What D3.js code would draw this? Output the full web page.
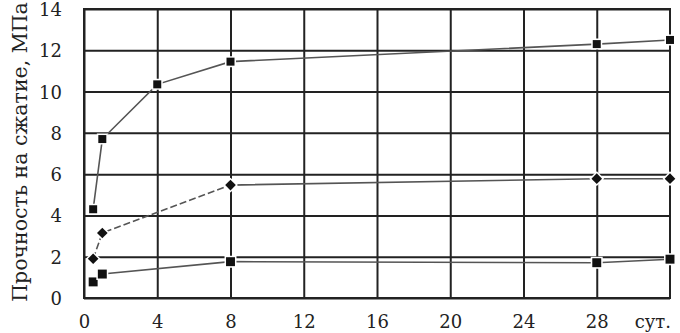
<!DOCTYPE html>
<meta charset="utf-8">
<head>
<style>
	body {
	margin: 0;
	background-color: #fff;
	}
	svg text {
	font-family: 'DejaVu Serif', serif;
	fill: #222;
	}
</style>
</head>
<body>
<div id="chart"></div>

<script src="https://d3js.org/d3.v7.min.js"></script>
<script>

// data: days vs strength, MPa
var days = [0.5, 1, 4, 8, 28, 32];
var daysShort = [0.5, 1, 8, 28, 32];
var seriesTop = [4.3, 7.7, 10.35, 11.45, 12.3, 12.5];
var seriesMid = [1.9, 3.15, 5.47, 5.78, 5.78];
var seriesLow = [0.78, 1.16, 1.76, 1.71, 1.88];

var xTicks = [0, 4, 8, 12, 16, 20, 24, 28];
var yTicks = [0, 2, 4, 6, 8, 10, 12, 14];
var xUnit = "сут.";
var yTitle = "Прочность на сжатие, МПа";

var margin = {top: 9, right: 10, bottom: 35, left: 84},
  width = 680 - margin.left - margin.right,
  height = 333 - margin.top - margin.bottom;

var svg = d3.select("#chart")
  .append("svg")
    .attr("width", 680)
    .attr("height", 333)
  .append("g")
    .attr("transform", "translate(" + margin.left + "," + margin.top + ")");

var x = d3.scaleLinear().domain([0, 32]).range([0, width]);
var y = d3.scaleLinear().domain([0, 14]).range([height, 0]);

// grid + tick labels
var gy = svg.append("g")
  .call(d3.axisLeft(y).tickValues(yTicks).tickSize(-width).tickPadding(22).tickFormat(d3.format("d")));
gy.select(".domain").remove();
gy.selectAll("line").attr("stroke", "#222").attr("stroke-width", 2);
gy.selectAll("text").style("font-size", "18px").attr("dy", "0.36em");

var gx = svg.append("g")
  .attr("transform", "translate(0," + height + ")")
  .call(d3.axisBottom(x).tickValues(xTicks).tickSize(-height).tickPadding(0).tickFormat(d3.format("d")));
gx.select(".domain").remove();
gx.selectAll("line").attr("stroke", "#222").attr("stroke-width", 2);
gx.selectAll("text").style("font-size", "18px").attr("y", 30).attr("dy", 0);

// frame
svg.append("rect")
  .attr("x", x(0)).attr("y", y(14))
  .attr("width", x(32) - x(0)).attr("height", y(0) - y(14))
  .attr("fill", "none").attr("stroke", "#222").attr("stroke-width", 2);

svg.append("text")
  .attr("x", x(32) + 1)
  .attr("y", height + 30)
  .attr("text-anchor", "end")
  .style("font-size", "18px")
  .text(xUnit);

svg.append("text")
  .attr("transform", "translate(" + (27 - margin.left) + "," + (152 - margin.top) + ") rotate(-90)")
  .attr("text-anchor", "middle")
  .style("font-size", "20.5px")
  .text(yTitle);

var line = d3.line()
  .x(function(d) { return x(d[0]); })
  .y(function(d) { return y(d[1]); });

var topPts = d3.zip(days, seriesTop);
var midPts = d3.zip(daysShort, seriesMid);
var lowPts = d3.zip(daysShort, seriesLow);

function drawLine(pts, dash) {
  svg.append("path")
    .datum(pts)
    .attr("fill", "none")
    .attr("stroke", "#555")
    .attr("stroke-width", 1.6)
    .attr("stroke-dasharray", dash)
    .attr("d", line);
}

drawLine(topPts, null);
drawLine(midPts.slice(0, 3), "7,3");
drawLine(midPts.slice(2), null);
drawLine(lowPts, null);

function drawMarks(pts, type, size) {
  svg.selectAll(null)
    .data(pts)
    .enter()
    .append("path")
      .attr("transform", function(d) { return "translate(" + x(d[0]) + "," + y(d[1]) + ")"; })
      .attr("d", d3.symbol().type(type).size(size))
      .attr("fill", "#111")
      .attr("stroke", "#fff")
      .attr("stroke-width", 3)
      .attr("paint-order", "stroke");
}

drawMarks(topPts, d3.symbolSquare, 64);
drawMarks(midPts, d3.symbolDiamond2, 72);
drawMarks(lowPts, d3.symbolSquare, 80);

</script>
</body>
